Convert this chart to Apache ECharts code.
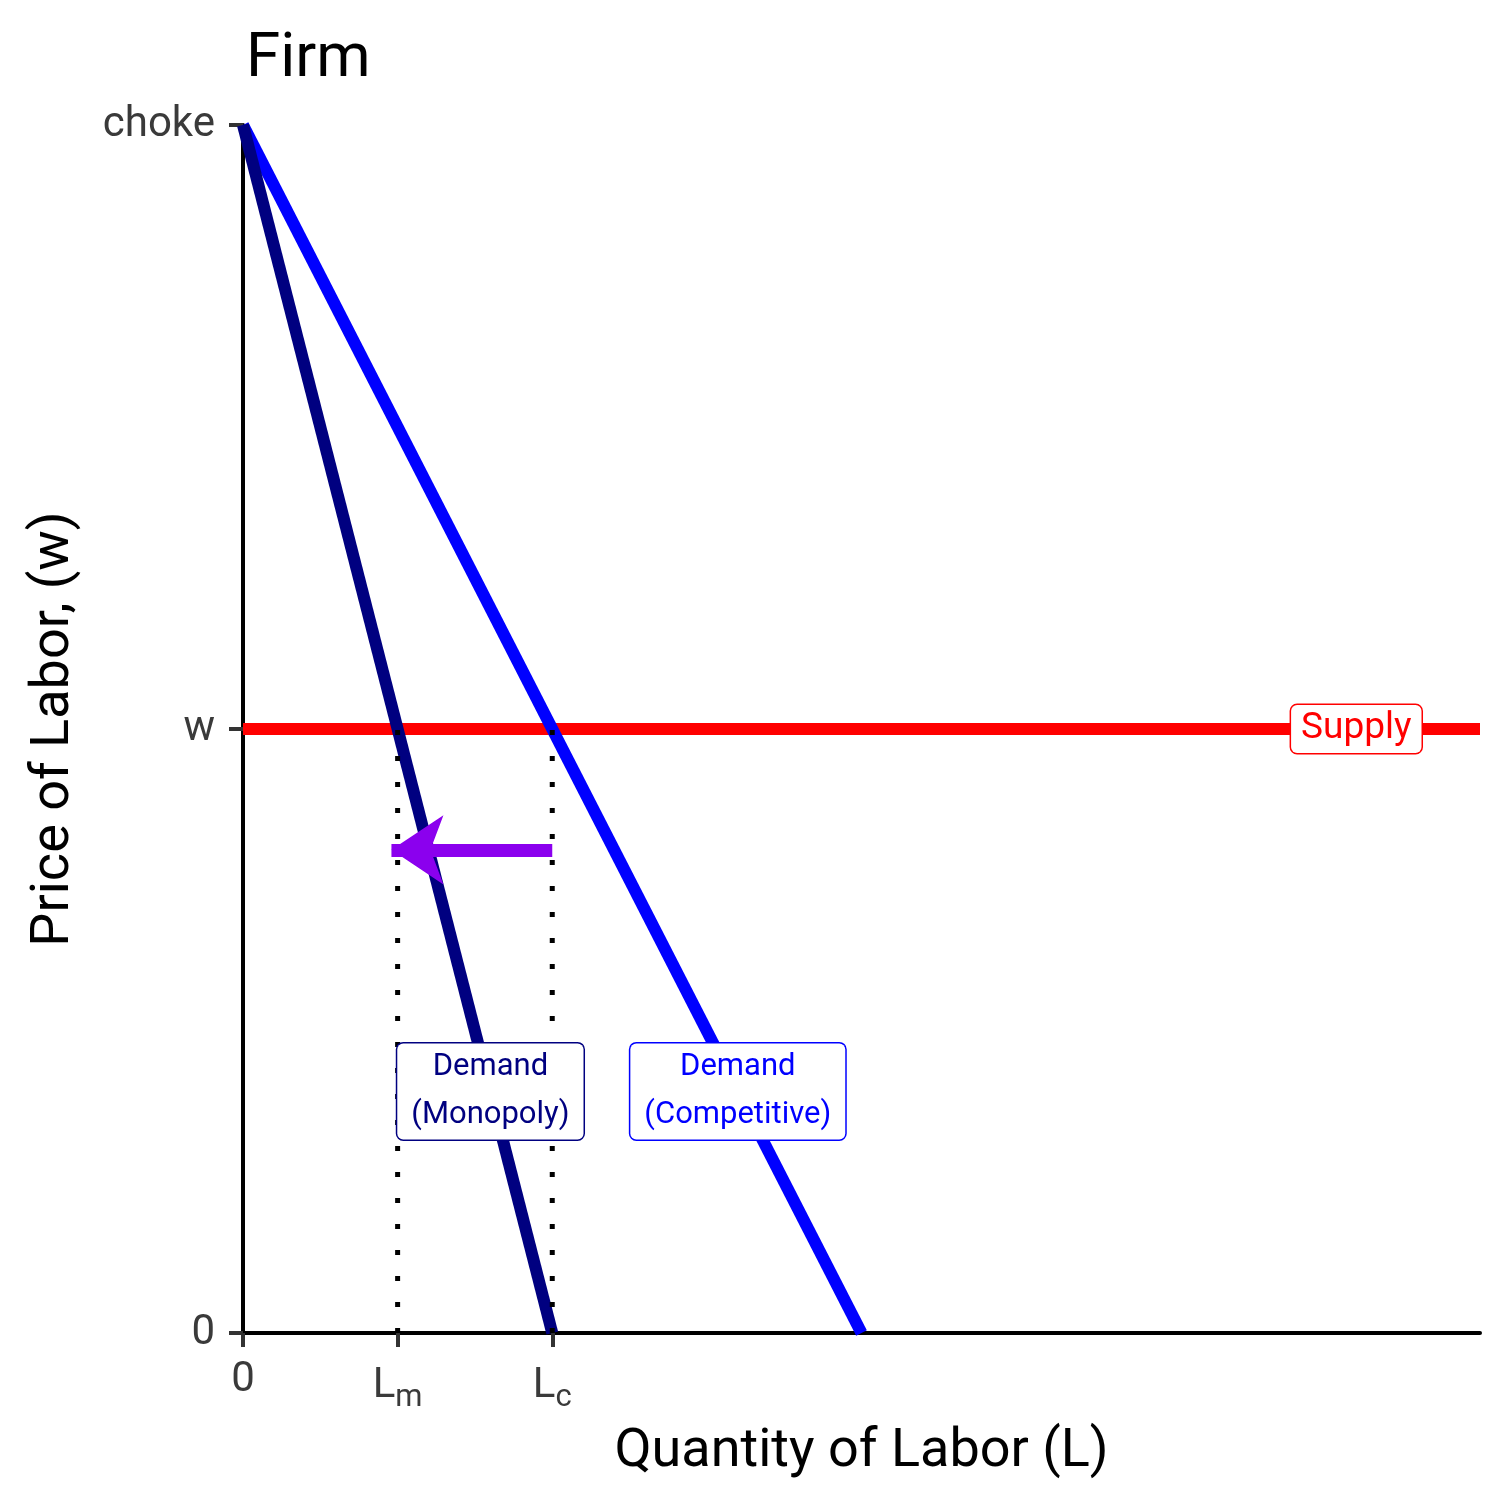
<!DOCTYPE html>
<html><head><meta charset="utf-8">
<script src="https://cdn.jsdelivr.net/npm/echarts@6/dist/echarts.min.js"></script>
<style>html,body{margin:0;padding:0;background:#fff}#c{width:1512px;height:1512px}</style>
</head><body><div id="c"></div>
<script>
// ---- data ----
const xTickValues = [0, 2.5, 5];
const xTickLabels = ['0', 'L{sub|m}', 'L{sub|c}'];
const yTickValues = [0, 5, 10];
const yTickLabels = ['0', 'w', 'choke'];
const demandCompetitive = [[0, 10], [10, 0]];
const demandMonopoly = [[0, 10], [5, 0]];
const supply = [[0, 5], [20, 5]];
const dottedLm = [[2.5, 0], [2.5, 5]];
const dottedLc = [[5, 0], [5, 5]];
const arrowCoords = [[5, 4], [2.4, 4]];
const labelMonopoly = [4, 2, 'Demand\n(Monopoly)'];
const labelCompetitive = [8, 2, 'Demand\n(Competitive)'];
const labelSupply = [18, 5, 'Supply'];

const FONT = 'Roboto, "Noto Sans", sans-serif';
const chart = echarts.init(document.getElementById('c'), null, {renderer: 'canvas'});

function boxLabel(pt, color, size, lh, pad) {
  return {
    type: 'scatter', z: 10, symbolSize: 0,
    data: [[pt[0], pt[1]]],
    silent: true,
    itemStyle: {opacity: 1},
    label: {
      show: true, position: 'inside', formatter: pt[2],
      color: color, fontFamily: FONT, fontSize: size, lineHeight: lh,
      backgroundColor: '#fff', borderColor: color, borderWidth: 1.5, borderRadius: 6,
      padding: pad, align: 'center', opacity: 1
    }
  };
}

chart.setOption({
  animation: false,
  backgroundColor: '#fff',
  title: {
    text: 'Firm', left: 241, top: 24,
    textStyle: {fontFamily: FONT, fontSize: 62, fontWeight: 'normal', color: '#000'}
  },
  grid: {left: 243, right: 32, top: 125, bottom: 179, containLabel: false},
  xAxis: {
    type: 'value', min: 0, max: 20,
    name: 'Quantity of Labor (L)', nameLocation: 'middle', nameGap: 92,
    nameTextStyle: {fontFamily: FONT, fontSize: 54, color: '#000'},
    axisLine: {lineStyle: {color: '#000', width: 4}},
    axisTick: {show: true, customValues: xTickValues, length: 14, lineStyle: {color: '#333', width: 4}},
    axisLabel: {
      customValues: xTickValues, margin: 26,
      formatter: v => xTickLabels[xTickValues.indexOf(v)],
      fontFamily: FONT, fontSize: 42, color: '#3a3a3a',
      rich: {sub: {fontFamily: FONT, fontSize: 31, color: '#3a3a3a', verticalAlign: 'bottom', padding: [24, 0, 0, 0]}}
    },
    splitLine: {show: false}
  },
  yAxis: {
    type: 'value', min: 0, max: 10,
    name: 'Price of Labor, (w)', nameLocation: 'middle', nameGap: 162,
    nameTextStyle: {fontFamily: FONT, fontSize: 54, color: '#000'},
    axisLine: {show: true, lineStyle: {color: '#000', width: 4}},
    axisTick: {show: true, customValues: yTickValues, length: 14, lineStyle: {color: '#333', width: 4}},
    axisLabel: {
      customValues: yTickValues, margin: 28,
      formatter: v => yTickLabels[yTickValues.indexOf(v)],
      fontFamily: FONT, fontSize: 42, color: '#3a3a3a'
    },
    splitLine: {show: false}
  },
  series: [
    {type: 'line', data: supply, symbol: 'none', clip: false, z: 2,
     lineStyle: {color: '#ff0000', width: 12, cap: 'butt'}},
    {type: 'line', data: demandCompetitive, symbol: 'none', clip: false, z: 3,
     lineStyle: {color: '#0000ff', width: 12}},
    {type: 'line', data: demandMonopoly, symbol: 'none', clip: false, z: 3,
     lineStyle: {color: '#000080', width: 12}},
    {type: 'line', data: dottedLm, symbol: 'none', z: 4,
     lineStyle: {color: '#000', width: 5, type: [5, 21], cap: 'butt'}},
    {type: 'line', data: dottedLc, symbol: 'none', z: 4,
     lineStyle: {color: '#000', width: 5, type: [5, 21], cap: 'butt'}},
    {type: 'lines', coordinateSystem: 'cartesian2d', z: 5,
     symbol: ['none', 'arrow'], symbolSize: [58, 52],
     lineStyle: {color: '#8b00ee', width: 13, opacity: 1},
     data: [{coords: arrowCoords}]},
    boxLabel(labelMonopoly, '#000080', 31, 48, [0, 14, 0, 14]),
    boxLabel(labelCompetitive, '#0000ff', 31, 48, [0, 14, 0, 14]),
    boxLabel(labelSupply, '#ff0000', 37, 48, [0, 10, 0, 10])
  ]
});
</script></body></html>
